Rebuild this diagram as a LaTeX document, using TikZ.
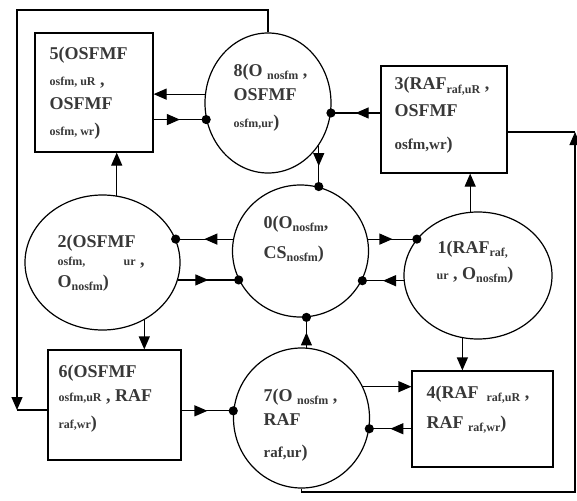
\documentclass[tikz,border=0pt]{standalone}
\usepackage{fontspec}
\setmainfont{Liberation Serif}
\usetikzlibrary{arrows.meta,shapes.geometric,decorations.markings}

% font sizes used inside the state labels
\newcommand\fbig{\fontsize{18}{20}\selectfont}
\newcommand\fmed{\fontsize{15}{17}\selectfont}
\newcommand\fsml{\fontsize{12}{14}\selectfont}
\newcommand\subl[1]{\raisebox{-3pt}{\fsml #1}}

\begin{document}
\begin{tikzpicture}[x=1pt,y=-1pt,
  line width=1.2pt,
  boxst/.style={draw, rectangle, inner sep=0pt},
  ellst/.style={draw, ellipse, inner sep=0pt},
  txt/.style={anchor=base west, inner sep=0pt, text=black!78, font=\bfseries\fbig},
  flow/.style={-{Triangle[length=13pt,width=11pt]}},
  link/.style={postaction={decorate}, decoration={markings,
      mark=at position 0.5 with {\arrow{Triangle[length=13pt,width=11pt]}},
      mark=at position 1 with {\fill (0,0) circle (4.6pt);}}}
]
\useasboundingbox (0,0) rectangle (577,500);

% states
\node[boxst, minimum width=118pt, minimum height=119pt] (n5) at (94,92.5) {};
\node[boxst, minimum width=126pt, minimum height=107pt] (n3) at (444,119.5) {};
\node[ellst, minimum width=126pt, minimum height=140pt] (n8) at (268,103) {};
\node[ellst, minimum width=136pt, minimum height=132pt] (n0) at (300.5,251) {};
\node[ellst, minimum width=155pt, minimum height=135pt] (n2) at (102.5,262.5) {};
\node[ellst, minimum width=148pt, minimum height=127pt] (n1) at (478,275.5) {};
\node[boxst, minimum width=133pt, minimum height=110pt] (n6) at (114.5,405) {};
\node[ellst, minimum width=136pt, minimum height=140pt] (n7) at (301.5,418) {};
\node[boxst, minimum width=141pt, minimum height=96pt] (n4) at (482.5,419) {};

% labels
\node[txt] (t5a) at (49,60) {5(OSFMF};
\node[txt] (t5b) at (49,86) {{\fsml osfm, uR} ,};
\node[txt] (t5c) at (49,110) {OSFMF};
\node[txt] (t5d) at (49,135) {{\fsml osfm, wr})};

\node[txt] (t3a) at (394,90) {3(RAF\subl{raf,uR} ,};
\node[txt] (t3b) at (394,116) {OSFMF};
\node[txt] (t3c) at (394,149) {{\fmed osfm,wr})};

\node[txt] (t8a) at (233,77) {8(O \subl{nosfm} ,};
\node[txt] (t8b) at (233,100) {OSFMF};
\node[txt] (t8c) at (233,127) {{\fsml osfm,ur})};

\node[txt] (t0a) at (263,228) {0(O\subl{nosfm},};
\node[txt] (t0b) at (263,258) {CS\subl{nosfm})};

\node[txt] (t2a) at (57,247) {2(OSFMF};
\node[txt] (t2b) at (57,265) {\fsml osfm,};
\node[txt] (t2b2) at (123,265) {{\fsml ur} ,};
\node[txt] (t2c) at (57,287) {O\subl{nosfm})};

\node[txt] (t1a) at (437,253) {1(RAF\subl{raf,}};
\node[txt] (t1b) at (436,279) {{\fsml ur} , O\subl{nosfm})};

\node[txt] (t6a) at (58,377) {6(OSFMF};
\node[txt] (t6b) at (58,401) {{\fsml osfm,uR} , RAF};
\node[txt] (t6c) at (58,428) {{\fsml raf,wr})};

\node[txt] (t7a) at (263,401) {7(O \subl{nosfm} ,};
\node[txt] (t7b) at (263,425) {RAF};
\node[txt] (t7c) at (263,457) {{\fmed raf,ur})};

\node[txt] (t4a) at (426,398) {4(RAF\hspace{8pt}\subl{raf,uR} ,};
\node[txt] (t4b) at (426,428) {RAF \subl{raf,wr})};

% direct transitions
\draw[flow] (n8.172) -- (n8.172 -| n5.east);
\draw[link] (n5.east |- n8.195) -- (n8.195);
\draw[link] (n3.west |- n8.351) -- (n8.351);
\draw[link] (n8.320) -- (n8.320 |- n0.75);
\draw[link] (n0.170) -- (n0.170 -| n2.18);
\draw[link] (n2.347) -- (n2.347 -| n0.205);
\draw[link] (n0.10) -- (n0.10 -| n1.149);
\draw[link] (n1.184) -- (n1.184 -| n0.335);
\draw[link] (n7.86) -- (n7.86 |- n0.275);
\draw[flow] (n1.97) -- (n1.97 |- n3.south);
\draw[flow] (n2.78) -- (n2.78 |- n5.south);
\draw[flow] (n2.306) -- (n2.306 |- n6.north);
\draw[flow] (n1.256) -- (n1.256 |- n4.north);
\draw[link] (n6.east |- n7.174) -- (n7.174);
\draw[flow] (n7.27) -- (n7.27 -| n4.west);
\draw[link] (n4.west |- n7.351) -- (n7.351);

% outer return loops
\coordinate (lt) at (17,10);
\coordinate (lb) at (17,410);
\coordinate (rb) at (575,492);
\coordinate (rt) at (575,132);
\draw[flow] (n8.north) |- (lt) -- (lb);
\draw (lb) -- (lb -| n6.west);
\draw[flow] (n7.south) |- (rb) -- (rt);
\draw (rt) -- (rt -| n3.east);
\end{tikzpicture}
\end{document}
